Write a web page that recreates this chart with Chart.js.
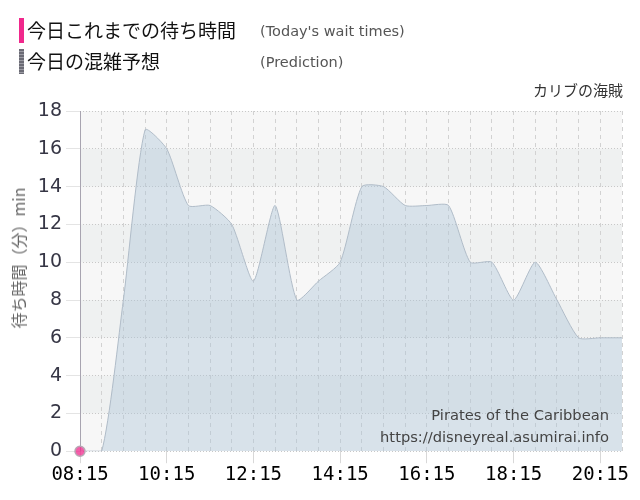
<!DOCTYPE html>
<html>
<head>
<meta charset="utf-8">
<script src="https://cdn.jsdelivr.net/npm/chart.js@4/dist/chart.umd.min.js"></script>
<style>
  body { margin: 0; background: #fff; }
  .wrap { position: relative; width: 640px; height: 500px; overflow: hidden; }
  .wrap canvas { position: absolute; left: 0; top: 0; }
  .lg { position: absolute; left: 19px; height: 26px; font: 19px "Noto Sans CJK JP", sans-serif; line-height: 26px; color: #111; }
  .lg .bar { position: absolute; left: 0; top: 0; width: 5px; height: 25px; }
  .lg .jp { position: absolute; left: 8px; top: -1px; white-space: nowrap; }
  .lg .en { position: absolute; left: 241px; top: 0; font: 14.5px "DejaVu Sans", sans-serif; line-height: 26px; color: #555; white-space: nowrap; }
  .ride { position: absolute; right: 17px; top: 79px; font: 15px "Noto Sans CJK JP", sans-serif; color: #333; }
  .mark { position: absolute; right: 31px; text-align: right; font: 14.7px "DejaVu Sans", sans-serif; color: #444; white-space: nowrap; }
  .ytitle { position: absolute; left: 18px; top: 258px; transform: translate(-50%, -50%) rotate(-90deg); font: 16px "Noto Sans CJK JP", sans-serif; color: #666; white-space: nowrap; }
</style>
</head>
<body>
<div class="wrap">
  <canvas id="waitChart" width="640" height="500"></canvas>
  <div class="lg" style="top:18px"><div class="bar" style="background:#f0288c"></div><span class="jp">今日これまでの待ち時間</span><span class="en">(Today's wait times)</span></div>
  <div class="lg" style="top:49px"><div class="bar" style="background:repeating-linear-gradient(#6b6b75 0 2px,#9a9aa2 2px 3px)"></div><span class="jp">今日の混雑予想</span><span class="en">(Prediction)</span></div>
  <div class="ride">カリブの海賊</div>
  <div class="ytitle">待ち時間（分）min</div>
  <div class="mark" style="top:406px">Pirates of the Caribbean</div>
  <div class="mark" style="top:428px">https://disneyreal.asumirai.info</div>
</div>
<script>
const times = [
  '08:15', '08:45', '09:15', '09:45', '10:15', '10:45', '11:15', '11:45',
  '12:15', '12:45', '13:15', '13:45', '14:15', '14:45', '15:15', '15:45',
  '16:15', '16:45', '17:15', '17:45', '18:15', '18:45', '19:15', '19:45',
  '20:15', '20:45'
];
const prediction = [0, 0, 8, 17, 16, 13, 13, 12, 9, 13, 8, 9, 10, 14, 14, 13, 13, 13, 10, 10, 8, 10, 8, 6, 6, 6];
const actual = [0];
const yTicks = [0, 2, 4, 6, 8, 10, 12, 14, 16, 18];

// striped plot background + solid left axis line
const bands = {
  id: 'bands',
  beforeDraw(chart) {
    const { ctx, chartArea: a, scales: { y } } = chart;
    ctx.save();
    ctx.fillStyle = '#f7f7f7';
    ctx.fillRect(a.left, a.top, a.width, a.height);
    ctx.fillStyle = '#eff1f1';
    for (let v = 2; v < 18; v += 4) {
      const t = y.getPixelForValue(v + 2), b = y.getPixelForValue(v);
      ctx.fillRect(a.left, t, a.width, b - t);
    }
    ctx.restore();
  },
  beforeDatasetsDraw(chart) {
    const { ctx, chartArea: a } = chart;
    ctx.save();
    ctx.strokeStyle = '#a8a4b0';
    ctx.lineWidth = 1;
    ctx.beginPath();
    ctx.moveTo(a.left + 0.5, a.top);
    ctx.lineTo(a.left + 0.5, a.bottom);
    ctx.stroke();
    ctx.restore();
  }
};

const ctx = document.getElementById('waitChart').getContext('2d');

new Chart(ctx, {
  type: 'line',
  data: {
    labels: times,
    datasets: [{
      label: '今日これまでの待ち時間',
      data: actual,
      borderColor: '#f0288c',
      pointBackgroundColor: 'rgba(240,40,140,0.75)',
      pointBorderColor: '#b9a6b4',
      pointBorderWidth: 1.5,
      pointRadius: 5,
      showLine: false,
      clip: false
    }, {
      label: '今日の混雑予想',
      data: prediction,
      borderColor: '#b0bcc8',
      borderWidth: 1,
      backgroundColor: 'rgba(170,195,215,0.4)',
      fill: 'origin',
      pointRadius: 0,
      tension: 0.2
    }]
  },
  options: {
    responsive: false,
    animation: false,
    layout: { padding: { top: 111, right: 18, left: 0, bottom: 14 } },
    plugins: {
      legend: { display: false },
      tooltip: { enabled: false }
    },
    scales: {
      x: {
        grid: {
          color: '#d2d2d2',
          tickLength: 12,
          tickColor: c => (c.index % 4 === 0 ? '#d8d8d8' : 'transparent')
        },
        border: { display: false, dash: [4, 4] },
        ticks: {
          autoSkip: false,
          maxRotation: 0,
          color: '#000',
          padding: 0,
          font: { family: 'DejaVu Sans Mono', size: 19 },
          callback: (v, i) => (i % 4 === 0 ? times[i] : '')
        }
      },
      y: {
        min: 0,
        max: 18,
        afterBuildTicks: s => { s.ticks = yTicks.map(v => ({ value: v })); },
        afterFit: s => { s.width = 80; },
        grid: { color: '#c8c8c8', tickLength: 14, tickColor: '#e4e4e4' },
        border: { display: false, dash: [1, 2] },
        ticks: {
          color: '#363645',
          padding: 4,
          font: { family: 'DejaVu Sans', size: 19 }
        }
      }
    }
  },
  plugins: [bands]
});
</script>
</body>
</html>
